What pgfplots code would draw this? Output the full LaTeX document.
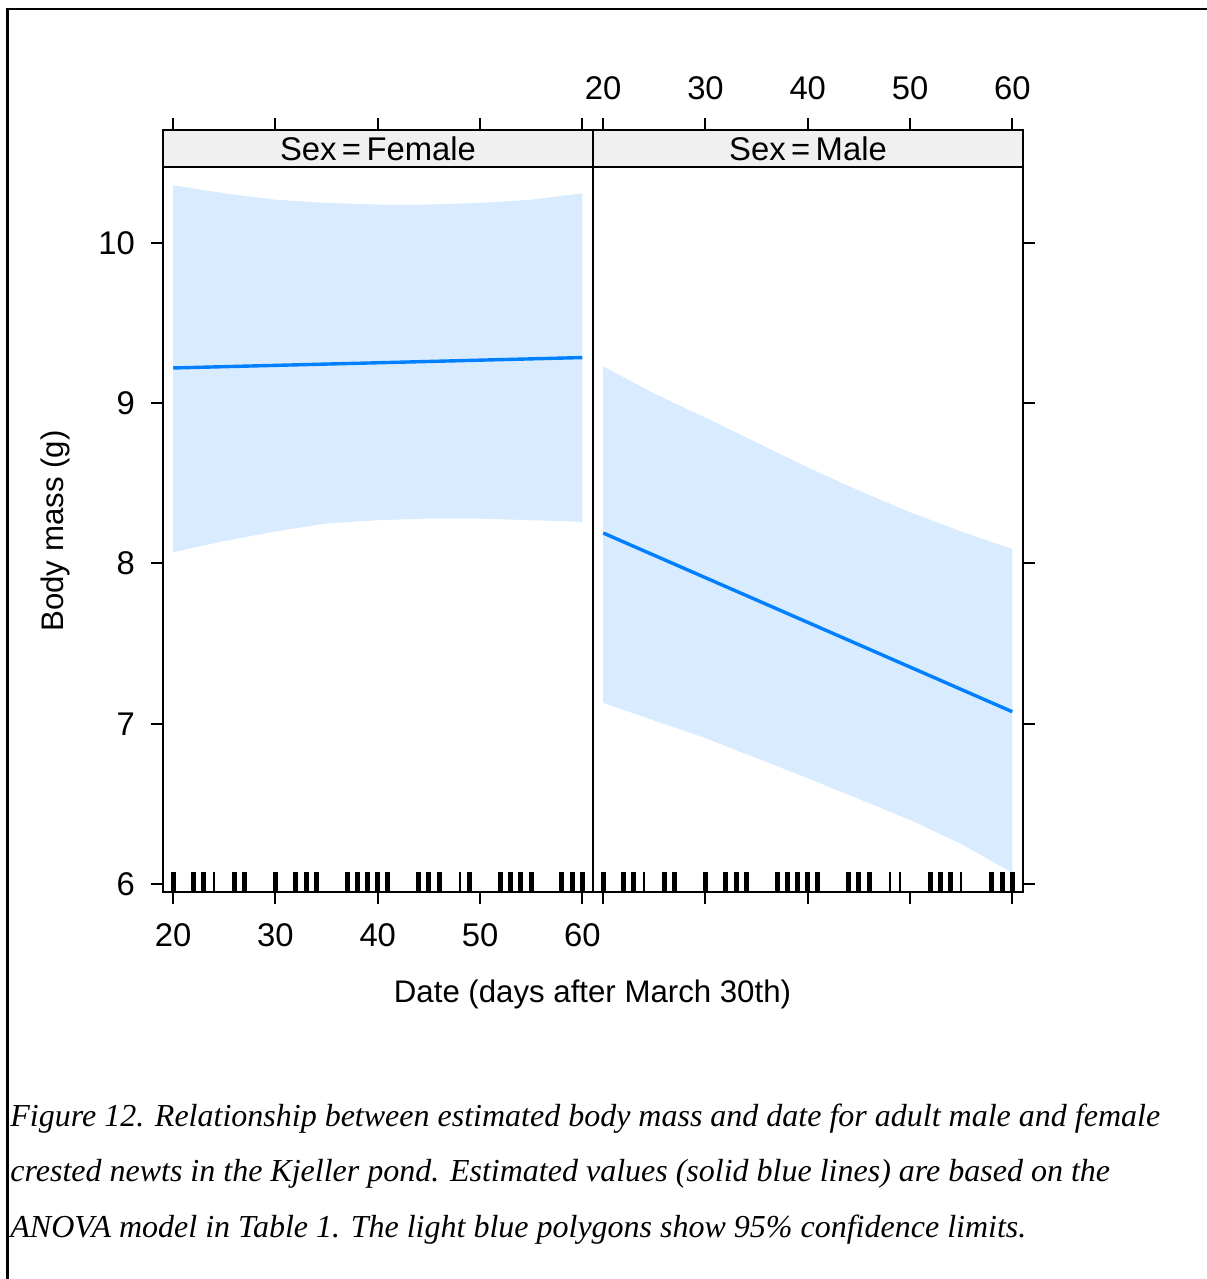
\documentclass[border=0pt]{standalone}
\usepackage{pgfplots}
\pgfplotsset{compat=1.18}
\usepackage{fontspec}
\setmainfont{Liberation Sans}
\newfontfamily\capfont{Liberation Serif}
\definecolor{lineblue}{HTML}{0080FF}
\definecolor{bandblue}{RGB}{217,236,255}
\definecolor{stripgray}{RGB}{240,240,240}
\newcommand{\lab}{\fontsize{15.6}{18}\selectfont}
\newcommand{\tlab}{\fontsize{16.4}{19}\selectfont}
\pgfplotsset{
  panel/.style={
    scale only axis, width=215pt, height=381pt,
    xmin=19, xmax=61.05, ymin=5.95, ymax=10.705,
    axis line style={line width=1pt},
    every tick/.style={line width=1pt, black},
    tick align=outside, major tick length=6pt,
    xtick={20,30,40,50,60}, ytick={6,7,8,9,10},
    /pgf/number format/assume math mode=true,
    tick label style={font=\tlab},
    clip=false,
  },
}
\begin{document}
\begin{tikzpicture}
\path[use as bounding box] (0,0) rectangle (603pt,-639.5pt);
\draw[line width=1.3pt] (3.75pt,-640pt) -- (3.75pt,-4.5pt) -- (604pt,-4.5pt);

% Female panel
\begin{axis}[panel, at={(81.5pt,-65pt)}, anchor=north west,
  xtick pos=both, ytick pos=left,
  xticklabel style={yshift=-6.5pt}, yticklabel style={xshift=-4.5pt}]
\addplot[fill=bandblue, draw=none] coordinates {
 (20,10.36) (25,10.31) (30,10.27) (35,10.25) (40,10.24) (45,10.24) (50,10.25) (55,10.27) (60,10.31)
 (60,8.26) (55,8.27) (50,8.28) (45,8.28) (40,8.27) (35,8.25) (30,8.20) (25,8.14) (20,8.07)} -- cycle;
\addplot[lineblue, line width=1.7pt] coordinates {(20,9.22) (60,9.285)};
\addplot[only marks, mark=|, mark size=5.25pt, mark options={line width=2.5pt, black}] coordinates {
 (20,6.0124) (22,6.0124) (23,6.0124) (26,6.0124) (27,6.0124) (30,6.0124) (32,6.0124) (33,6.0124) (34,6.0124)
 (37,6.0124) (38,6.0124) (39,6.0124) (40,6.0124) (41,6.0124) (44,6.0124) (45,6.0124) (46,6.0124) (49,6.0124)
 (52,6.0124) (53,6.0124) (54,6.0124) (55,6.0124) (58,6.0124) (59,6.0124) (60,6.0124)};
\addplot[only marks, mark=|, mark size=5.25pt, mark options={line width=1pt, black}] coordinates {
 (24,6.0124) (48,6.0124)};
\draw[line width=1pt, fill=stripgray] (axis cs:19,10.474) rectangle (axis cs:61.05,10.705);
\node[font=\tlab] at (axis cs:40.025,10.589) {Sex\,=\,Female};
\end{axis}

% Male panel
\begin{axis}[panel, at={(296.5pt,-65pt)}, anchor=north west,
  xtick pos=both, xticklabel pos=upper, ytick pos=right, yticklabels={},
  xticklabel style={yshift=5.5pt}]
\addplot[fill=bandblue, draw=none] coordinates {
 (20,9.23) (25,9.06) (30,8.91) (35,8.755) (40,8.60) (45,8.455) (50,8.32) (55,8.20) (60,8.09)
 (60,6.07) (55,6.25) (50,6.40) (45,6.53) (40,6.66) (35,6.785) (30,6.91) (25,7.02) (20,7.13)} -- cycle;
\addplot[lineblue, line width=1.7pt] coordinates {(20,8.19) (60,7.075)};
\addplot[only marks, mark=|, mark size=5.25pt, mark options={line width=2.5pt, black}] coordinates {
 (20,6.0124) (22,6.0124) (23,6.0124) (26,6.0124) (27,6.0124) (30,6.0124) (32,6.0124) (33,6.0124) (34,6.0124)
 (37,6.0124) (38,6.0124) (39,6.0124) (40,6.0124) (41,6.0124) (44,6.0124) (45,6.0124) (46,6.0124)
 (52,6.0124) (53,6.0124) (54,6.0124) (58,6.0124) (59,6.0124) (60,6.0124)};
\addplot[only marks, mark=|, mark size=5.25pt, mark options={line width=1pt, black}] coordinates {
 (24,6.0124) (48,6.0124) (49,6.0124) (55,6.0124)};
\draw[line width=1pt, fill=stripgray] (axis cs:19,10.474) rectangle (axis cs:61.05,10.705);
\node[font=\tlab] at (axis cs:40.025,10.589) {Sex\,=\,Male};
\end{axis}

\node[font=\lab] at (296.25pt,-497pt) {Date (days after March 30th)};
\node[font=\lab, rotate=90] at (27.5pt,-265.5pt) {Body mass (g)};

\begin{scope}[every node/.style={anchor=base west, inner sep=0pt, font=\capfont\itshape\fontsize{16}{19}\selectfont}]
\node at (5pt,-563pt) {Figure 12. Relationship between estimated body mass and date for adult male and female};
\node at (5pt,-590.5pt) {crested newts in the Kjeller pond. Estimated values (solid blue lines) are based on the};
\node at (5pt,-618.5pt) {ANOVA model in Table 1. The light blue polygons show 95\% confidence limits.};
\end{scope}
\end{tikzpicture}
\end{document}
